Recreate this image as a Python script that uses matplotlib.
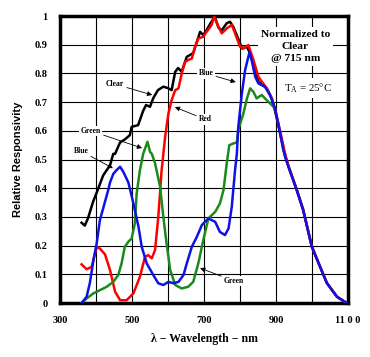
import numpy as np
import matplotlib.pyplot as plt

plt.rcParams['mathtext.fontset'] = 'custom'
plt.rcParams['mathtext.rm'] = 'Liberation Serif'

# longueurs d'onde (nm) et réponses relatives
clear_wl = [360, 369, 378, 392, 402, 420, 439, 448, 453, 467, 480, 494, 499, 517, 531, 539,
            550, 559, 572, 587, 600, 610, 620, 628, 638, 652, 670, 680, 689, 698, 707, 718,
            730, 740, 749, 763, 772, 781, 800, 805, 819, 828, 842, 851, 874, 888, 897, 911,
            925, 934, 957, 975, 999, 1022, 1041, 1069, 1096]
clear_val = [0.28, 0.27, 0.296, 0.353, 0.385, 0.445, 0.48, 0.52, 0.52, 0.56, 0.57, 0.585, 0.614,
             0.62, 0.67, 0.69, 0.684, 0.714, 0.742, 0.754, 0.749, 0.742, 0.806, 0.819, 0.806,
             0.858, 0.871, 0.91, 0.945, 0.934, 0.951, 0.975, 0.998, 0.96, 0.95, 0.975, 0.98,
             0.963, 0.905, 0.887, 0.893, 0.87, 0.806, 0.771, 0.748, 0.713, 0.67, 0.592, 0.51,
             0.478, 0.396, 0.326, 0.198, 0.127, 0.07, 0.022, 0.0]

red_wl = [360, 374, 388, 402, 411, 425, 439, 453, 467, 485, 504, 522, 536, 545, 555, 564,
          573, 582, 592, 601, 610, 620, 629, 638, 647, 656, 666, 675, 684, 698, 707, 721,
          728, 740, 749, 763, 777, 786, 800, 809, 823, 837, 851, 874, 888, 897, 911, 925,
          934, 957, 975, 999, 1022, 1041, 1069, 1096]
red_val = [0.135, 0.118, 0.126, 0.195, 0.19, 0.17, 0.115, 0.04, 0.01, 0.01, 0.034, 0.092,
           0.161, 0.167, 0.156, 0.185, 0.30, 0.46, 0.58, 0.66, 0.707, 0.742, 0.748, 0.80,
           0.84, 0.847, 0.852, 0.893, 0.922, 0.928, 0.945, 0.969, 0.998, 0.963, 0.94, 0.957,
           0.969, 0.94, 0.893, 0.887, 0.899, 0.847, 0.788, 0.748, 0.713, 0.675, 0.60, 0.52,
           0.478, 0.396, 0.326, 0.198, 0.127, 0.07, 0.022, 0.0]

green_wl = [360, 374, 393, 411, 430, 448, 462, 471, 480, 490, 499, 508, 513, 522, 531, 543,
            550, 555, 564, 578, 587, 596, 606, 620, 638, 656, 670, 684, 698, 712, 731, 744,
            754, 763, 770, 781, 791, 795, 809, 819, 828, 837, 846, 860, 874, 888, 897]
green_val = [0.0, 0.016, 0.034, 0.045, 0.057, 0.074, 0.098, 0.138, 0.196, 0.214, 0.225, 0.278,
             0.382, 0.463, 0.52, 0.562, 0.527, 0.52, 0.487, 0.405, 0.30, 0.208, 0.115, 0.063,
             0.051, 0.057, 0.074, 0.138, 0.22, 0.295, 0.318, 0.347, 0.394, 0.487, 0.55, 0.556,
             0.56, 0.603, 0.66, 0.713, 0.748, 0.736, 0.713, 0.725, 0.707, 0.69, 0.678]

blue_wl = [360, 374, 383, 393, 402, 411, 420, 434, 439, 448, 457, 467, 476, 490, 504, 518,
           527, 541, 559, 573, 587, 601, 615, 629, 643, 652, 666, 680, 694, 712, 731, 744,
           758, 768, 777, 786, 791, 795, 805, 814, 826, 832, 842, 851, 869, 883, 897, 906,
           920, 934, 957, 975, 999, 1022, 1041, 1069, 1096]
blue_val = [0.0, 0.022, 0.07, 0.15, 0.208, 0.29, 0.33, 0.394, 0.42, 0.45, 0.463, 0.475, 0.457,
            0.42, 0.347, 0.266, 0.196, 0.138, 0.098, 0.069, 0.063, 0.074, 0.069, 0.074, 0.098,
            0.138, 0.196, 0.231, 0.272, 0.295, 0.283, 0.248, 0.237, 0.26, 0.336, 0.463, 0.52,
            0.614, 0.731, 0.812, 0.874, 0.847, 0.788, 0.765, 0.754, 0.725, 0.678, 0.626,
            0.533, 0.475, 0.394, 0.324, 0.196, 0.126, 0.069, 0.022, 0.0]

xticks = [300, 500, 700, 900, 1100]
yticks = [0, 0.1, 0.2, 0.3, 0.4, 0.5, 0.6, 0.7, 0.8, 0.9, 1]
ytick_labels = ['0', '0.1', '0.2', '0.3', '0.4', '0.5', '0.6', '0.7', '0.8', '0.9', '1']

fig = plt.figure(figsize=(3.7, 3.57), dpi=100)
ax = fig.add_axes([0.162, 0.151, 0.779, 0.804])

ax.plot(clear_wl, clear_val, color='black', lw=1.8, zorder=3)
ax.plot(red_wl, red_val, color='#ff0000', lw=1.8, zorder=4)
ax.plot(green_wl, green_val, color='#1a8a1a', lw=1.8, zorder=5)
ax.plot(blue_wl, blue_val, color='#1010e8', lw=1.8, zorder=6)

ax.set_xlim(300, 1100)
ax.set_ylim(0, 1)
ax.set_xticks(np.arange(300, 1101, 100), minor=True)
ax.set_xticks(xticks)
ax.set_xticklabels(['300', '500', '700', '900', '11 0 0'])
ax.set_yticks(yticks)
ax.set_yticklabels(ytick_labels)
ax.grid(True, which='both', color='black', lw=0.8)
ax.set_axisbelow(True)
ax.tick_params(which='both', length=0, pad=9)
for lab in ax.get_xticklabels() + ax.get_yticklabels():
    lab.set_fontfamily('Liberation Serif')
    lab.set_fontweight('bold')
    lab.set_fontsize(7.5)
for s in ax.spines.values():
    s.set_linewidth(2.5)

ax.set_xlabel('λ − Wavelength − nm', family='Liberation Serif', weight='bold',
              fontsize=8.5, labelpad=6)
ax.set_ylabel('Relative Responsivity', family='Liberation Sans', weight='bold',
              fontsize=8, labelpad=8)

# étiquettes avec flèches
boite = dict(facecolor='white', edgecolor='none', pad=1)
fleche = dict(arrowstyle='-|>', color='black', lw=0.6, mutation_scale=7, shrinkA=1, shrinkB=0)
etiquettes = [('Clear', (453, 0.763), (556, 0.725)),
              ('Green', (386, 0.60), (528, 0.54)),
              ('Blue', (358, 0.53), (447, 0.47)),
              ('Red', (703, 0.64), (619, 0.683)),
              ('Blue', (705, 0.80), (788, 0.77)),
              ('Green', (783, 0.077), (689, 0.122))]
for txt, pos, tete in etiquettes:
    ax.annotate(txt, xy=tete, xytext=pos, ha='center', va='center',
                family='Liberation Serif', weight='bold', fontsize=5.5,
                bbox=boite, arrowprops=fleche, zorder=8)

ax.text(953, 0.895, 'Normalized to\nClear\n@ 715 nm', ha='center', va='center',
        family='Liberation Serif', weight='bold', fontsize=8.2, linespacing=1.45,
        bbox=dict(facecolor='white', edgecolor='none', pad=2), zorder=8)
ax.text(988, 0.749, 'T$_\\mathrm{A}$ = 25°C', ha='center', va='center',
        family='Liberation Serif', fontsize=7.8,
        bbox=dict(facecolor='white', edgecolor='none', pad=2), zorder=8)

fig.savefig('out.png', dpi=100)
